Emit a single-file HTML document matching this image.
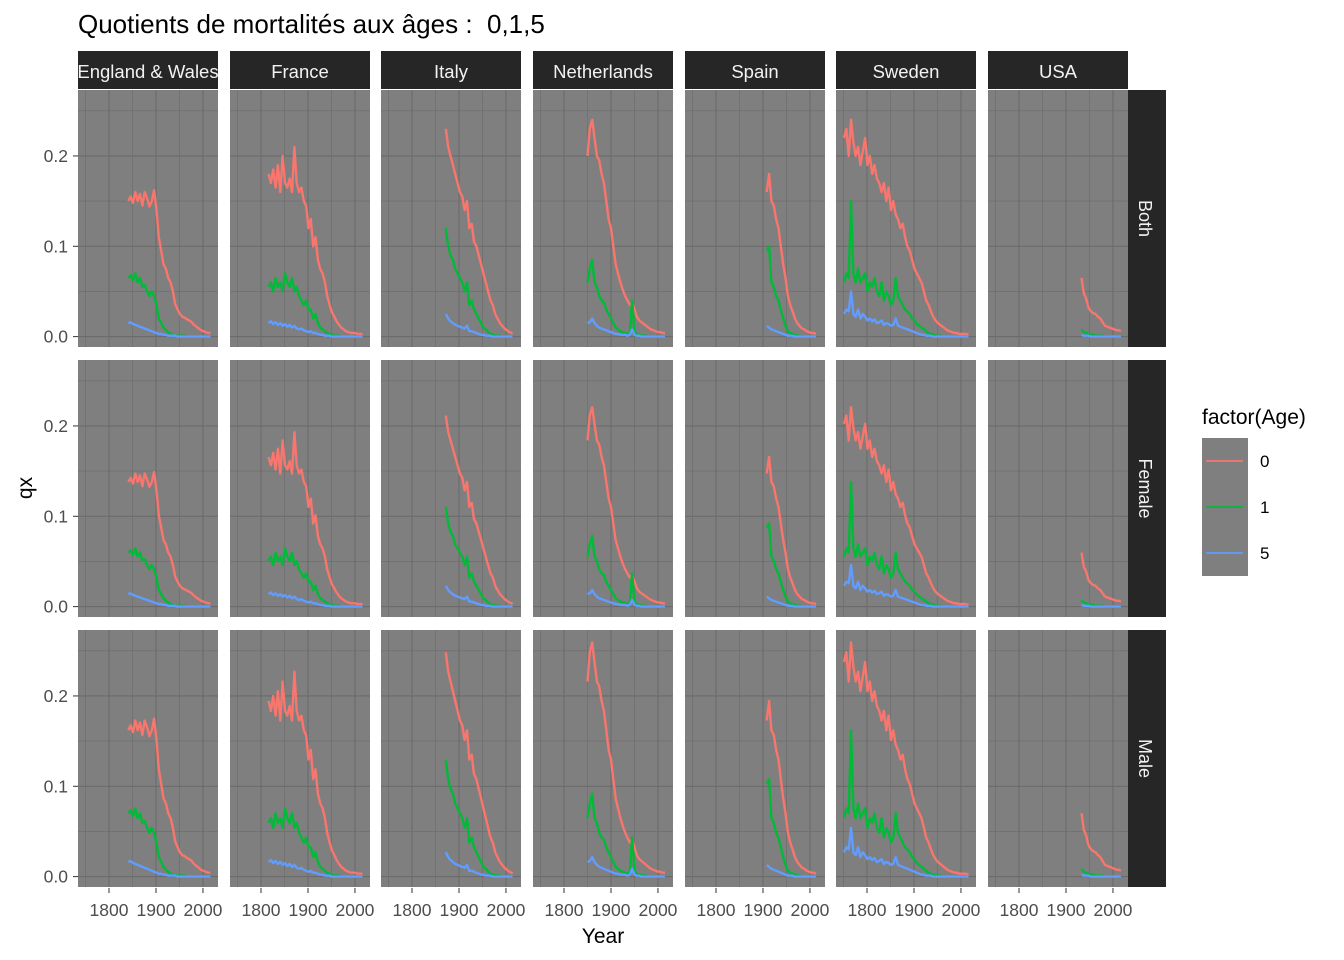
<!DOCTYPE html>
<html><head><meta charset="utf-8"><style>
body{margin:0;background:#fff;}
svg{display:block;font-family:"Liberation Sans",Arial,sans-serif;}
</style></head><body>
<svg id="c" width="1344" height="960" viewBox="0 0 1344 960"></svg>
<script>
const countries=["England & Wales","France","Italy","Netherlands","Spain","Sweden","USA"];
const sexes=["Both","Female","Male"];
const ages=["0","1","5"];
const startYears=[1841,1816,1872,1850,1908,1751,1933];
const endYears=[2016,2017,2014,2016,2016,2017,2017];
// values at 5-year steps (Both sexes)
const age0=[
[0.15,0.155,0.148,0.16,0.15,0.158,0.145,0.16,0.153,0.144,0.15,0.162,0.14,0.11,0.095,0.08,0.075,0.065,0.06,0.05,0.036,0.03,0.025,0.022,0.021,0.019,0.018,0.016,0.013,0.011,0.009,0.007,0.006,0.005,0.004,0.004],
[0.18,0.17,0.185,0.165,0.19,0.16,0.2,0.17,0.165,0.175,0.16,0.21,0.17,0.16,0.165,0.15,0.145,0.12,0.13,0.1,0.11,0.085,0.075,0.07,0.06,0.045,0.035,0.027,0.022,0.017,0.013,0.01,0.008,0.006,0.005,0.004,0.004,0.004,0.003,0.003,0.003],
[0.23,0.21,0.2,0.19,0.18,0.17,0.16,0.155,0.14,0.15,0.12,0.125,0.105,0.1,0.09,0.08,0.07,0.06,0.05,0.04,0.035,0.025,0.02,0.015,0.012,0.009,0.007,0.005,0.004,0.003],
[0.2,0.23,0.24,0.22,0.2,0.195,0.18,0.17,0.15,0.13,0.12,0.1,0.08,0.07,0.06,0.052,0.045,0.04,0.035,0.038,0.03,0.022,0.018,0.016,0.014,0.012,0.01,0.008,0.007,0.006,0.005,0.005,0.004,0.004],
[0.16,0.18,0.15,0.145,0.13,0.12,0.1,0.08,0.065,0.045,0.035,0.028,0.02,0.015,0.012,0.009,0.008,0.006,0.005,0.004,0.004,0.003],
[0.22,0.23,0.2,0.24,0.215,0.2,0.21,0.19,0.205,0.22,0.19,0.2,0.18,0.19,0.175,0.17,0.16,0.17,0.15,0.165,0.14,0.15,0.135,0.13,0.12,0.125,0.11,0.1,0.095,0.085,0.075,0.07,0.065,0.06,0.05,0.04,0.035,0.028,0.022,0.018,0.015,0.013,0.011,0.009,0.007,0.006,0.005,0.004,0.004,0.003,0.003,0.003,0.003,0.002],
[0.065,0.048,0.042,0.032,0.028,0.026,0.025,0.022,0.02,0.016,0.012,0.011,0.01,0.009,0.008,0.007,0.007,0.006]
];
const age1=[
[0.065,0.068,0.062,0.07,0.06,0.065,0.055,0.057,0.05,0.045,0.05,0.045,0.035,0.02,0.015,0.01,0.007,0.005,0.003,0.002,0.001,0.001,0.001,0.001,0.001,0.0,0.0,0.0,0.0,0.0,0.0,0.0,0.0,0.0,0.0,0.0],
[0.055,0.06,0.05,0.065,0.055,0.06,0.05,0.07,0.06,0.055,0.065,0.05,0.055,0.045,0.04,0.035,0.04,0.03,0.03,0.02,0.025,0.015,0.01,0.008,0.006,0.004,0.003,0.002,0.001,0.001,0.001,0.0,0.0,0.0,0.0,0.0,0.0,0.0,0.0,0.0,0.0],
[0.12,0.1,0.09,0.085,0.075,0.07,0.065,0.06,0.05,0.06,0.035,0.04,0.03,0.025,0.02,0.015,0.01,0.008,0.005,0.003,0.002,0.001,0.001,0.001,0.0,0.0,0.0,0.0,0.0,0.0],
[0.06,0.075,0.085,0.06,0.055,0.045,0.04,0.038,0.03,0.025,0.02,0.015,0.01,0.008,0.006,0.005,0.004,0.003,0.004,0.04,0.005,0.003,0.002,0.001,0.001,0.001,0.0,0.0,0.0,0.0,0.0,0.0,0.0,0.0],
[0.095,0.1,0.06,0.055,0.045,0.04,0.03,0.02,0.012,0.006,0.004,0.003,0.002,0.001,0.001,0.0,0.0,0.0,0.0,0.0,0.0,0.0],
[0.06,0.07,0.065,0.15,0.07,0.06,0.075,0.06,0.065,0.07,0.05,0.06,0.055,0.065,0.05,0.045,0.06,0.04,0.05,0.045,0.035,0.04,0.065,0.045,0.04,0.035,0.03,0.028,0.025,0.02,0.018,0.014,0.012,0.01,0.008,0.006,0.004,0.003,0.002,0.001,0.001,0.001,0.0,0.0,0.0,0.0,0.0,0.0,0.0,0.0,0.0,0.0,0.0,0.0],
[0.008,0.005,0.004,0.003,0.002,0.002,0.001,0.001,0.001,0.001,0.0,0.0,0.0,0.0,0.0,0.0,0.0,0.0]
];
const age5=[
[0.015,0.016,0.014,0.013,0.012,0.011,0.01,0.009,0.008,0.007,0.006,0.005,0.004,0.003,0.003,0.002,0.002,0.001,0.001,0.001,0.001,0.0,0.0,0.0,0.0,0.0,0.0,0.0,0.0,0.0,0.0,0.0,0.0,0.0,0.0,0.0],
[0.015,0.017,0.014,0.016,0.013,0.015,0.012,0.014,0.011,0.013,0.01,0.012,0.009,0.008,0.009,0.007,0.006,0.005,0.006,0.004,0.004,0.003,0.002,0.002,0.001,0.001,0.001,0.0,0.0,0.0,0.0,0.0,0.0,0.0,0.0,0.0,0.0,0.0,0.0,0.0,0.0],
[0.025,0.02,0.017,0.015,0.013,0.012,0.011,0.01,0.009,0.012,0.006,0.006,0.005,0.004,0.003,0.002,0.002,0.001,0.001,0.001,0.0,0.0,0.0,0.0,0.0,0.0,0.0,0.0,0.0,0.0],
[0.015,0.016,0.02,0.015,0.012,0.01,0.009,0.008,0.007,0.006,0.005,0.004,0.003,0.003,0.002,0.002,0.002,0.001,0.002,0.008,0.002,0.001,0.001,0.0,0.0,0.0,0.0,0.0,0.0,0.0,0.0,0.0,0.0,0.0],
[0.012,0.01,0.008,0.007,0.006,0.005,0.004,0.003,0.002,0.001,0.001,0.001,0.0,0.0,0.0,0.0,0.0,0.0,0.0,0.0,0.0,0.0],
[0.025,0.03,0.028,0.05,0.025,0.022,0.03,0.02,0.025,0.022,0.018,0.02,0.017,0.019,0.015,0.016,0.018,0.013,0.015,0.014,0.012,0.013,0.02,0.012,0.011,0.01,0.009,0.008,0.007,0.006,0.005,0.004,0.003,0.002,0.002,0.001,0.001,0.001,0.0,0.0,0.0,0.0,0.0,0.0,0.0,0.0,0.0,0.0,0.0,0.0,0.0,0.0,0.0,0.0],
[0.002,0.001,0.001,0.001,0.0,0.0,0.0,0.0,0.0,0.0,0.0,0.0,0.0,0.0,0.0,0.0,0.0,0.0]
];
const sexFactor=[1.0,0.92,1.08];
const yTicks=[0,0.1,0.2];
const yTickLabels=["0.0","0.1","0.2"];
const xTicks=[1800,1900,2000];

const NS="http://www.w3.org/2000/svg";
const svg=document.getElementById('c');
function mk(tag,attrs,parent,text){const e=document.createElementNS(NS,tag);for(const k in attrs)e.setAttribute(k,attrs[k]);if(text!==undefined)e.textContent=text;(parent||svg).appendChild(e);return e;}
const colors=["#F8766D","#00BA38","#619CFF"];
const panelX0=[78,230,381,533,685,836,988], panelW=140;
const rowY0=[90,360,630], panelH=257;
const xMin=1734, xMax=2032, yMin=-0.0115, yMax=0.273;
function sx(p,yr){return panelX0[p]+(yr-xMin)/(xMax-xMin)*panelW;}
function sy(r,v){return rowY0[r]+panelH-(v-yMin)/(yMax-yMin)*panelH;}

let t=mk('text',{x:78,y:33,'font-size':26,fill:'#000','xml:space':'preserve'},svg,'Quotients de mortalités aux âges :\u00a0 0,1,5');


countries.forEach((cn,p)=>{
  const g=mk('g',{});
  
  
  mk('rect',{x:panelX0[p],y:51,width:panelW,height:38,fill:'#262626'},g);
  const cp=mk('clipPath',{id:'cp'+p});mk('rect',{x:panelX0[p],y:51,width:panelW,height:38},cp);
  mk('text',{x:panelX0[p]+panelW/2,y:78,'font-size':18.5,fill:'#f2f2f2','text-anchor':'middle','clip-path':'url(#cp'+p+')'},g,cn);
});
sexes.forEach((s,r)=>{
  const g=mk('g',{});
  
  
  mk('rect',{x:1128,y:rowY0[r],width:38,height:panelH,fill:'#262626'},g);
  const cy=rowY0[r]+panelH/2;
  mk('text',{x:1139,y:cy,'font-size':18,fill:'#f2f2f2','text-anchor':'middle',transform:`rotate(90 1139 ${cy})`},g,s);
});

sexes.forEach((s,r)=>{
  countries.forEach((cn,p)=>{
    const g=mk('g',{});
    
    
    mk('rect',{x:panelX0[p],y:rowY0[r],width:panelW,height:panelH,fill:'#7f7f7f'},g);
    for(let yr=1750;yr<=2025;yr+=50){const x=sx(p,yr);mk('line',{x1:x,x2:x,y1:rowY0[r],y2:rowY0[r]+panelH,stroke:'#6b6b6b','stroke-width':yr%100==0?1.1:0.6},g);}
    for(let v=0;v<=0.26;v+=0.05){const y=sy(r,v);mk('line',{x1:panelX0[p],x2:panelX0[p]+panelW,y1:y,y2:y,stroke:'#6b6b6b','stroke-width':Math.round(v*100)%10==0?1.1:0.6},g);}
    [age0,age1,age5].forEach((arr,a)=>{
      const vals=arr[p];
      const pts=vals.map((v,i)=>{const yr=Math.min(startYears[p]+i*5,endYears[p]);return sx(p,yr).toFixed(1)+','+sy(r,v*sexFactor[r]).toFixed(1);}).join(' ');
      const pl=mk('polyline',{points:pts,fill:'none',stroke:colors[a],'stroke-width':2.4,'stroke-linejoin':'round'},g);
      
      
    });
  });
  yTicks.forEach((v,i)=>{
    const y=sy(r,v);
    mk('line',{x1:73,x2:78,y1:y,y2:y,stroke:'#333','stroke-width':1});
    const tl=mk('text',{x:68,y:y+6,'font-size':17.5,fill:'#4d4d4d','text-anchor':'end'},svg,yTickLabels[i]);
    
  });
});
countries.forEach((cn,p)=>{
  xTicks.forEach(yr=>{
    const x=sx(p,yr);
    mk('line',{x1:x,x2:x,y1:888,y2:893,stroke:'#333','stroke-width':1});
    const tl=mk('text',{x:x,y:916,'font-size':17.5,fill:'#4d4d4d','text-anchor':'middle'},svg,String(yr));
    
  });
});
t=mk('text',{x:603,y:943,'font-size':21,fill:'#000','text-anchor':'middle'},svg,'Year');

t=mk('text',{x:32,y:488,'font-size':21,fill:'#000','text-anchor':'middle',transform:'rotate(-90 32 488)'},svg,'qx');


const lg=mk('g',{});

mk('text',{x:1202,y:424,'font-size':21,fill:'#000'},lg,'factor(Age)');
mk('rect',{x:1202,y:438,width:46,height:138,fill:'#7f7f7f'},lg);
ages.forEach((a,i)=>{
  const y=461+i*46;
  const e=mk('g',{},lg);
  
  mk('line',{x1:1206,x2:1243,y1:y,y2:y,stroke:colors[i],'stroke-width':1.8},e);
  mk('text',{x:1260,y:y+6,'font-size':17,fill:'#000'},e,a);
});
</script>
</body></html>
